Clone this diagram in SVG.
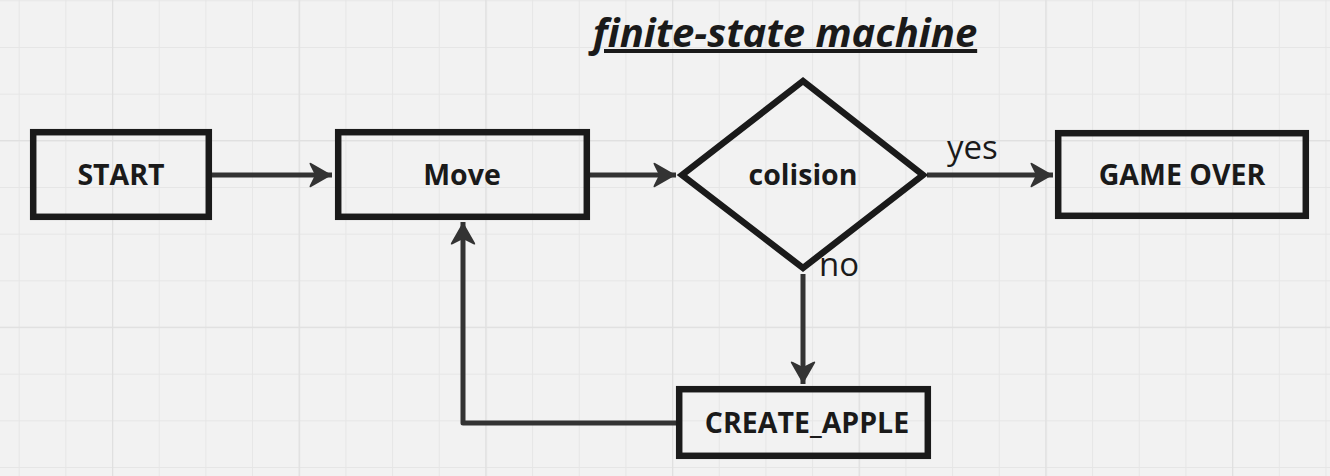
<svg xmlns="http://www.w3.org/2000/svg" width="1330" height="476" viewBox="0 0 1330 476">
<defs>
<pattern id="minor" patternUnits="userSpaceOnUse" x="18.7" y="0.3" width="46.67" height="46.67">
<path d="M0 0V46.67M0 0H46.67" fill="none" stroke="#e6e6e6" stroke-width="2"/>
</pattern>
<pattern id="major" patternUnits="userSpaceOnUse" x="112" y="140" width="186.67" height="186.67">
<path d="M0 0V186.67M0 0H186.67" fill="none" stroke="#e0e0e0" stroke-width="2.5"/>
</pattern>
<marker id="arr" markerUnits="userSpaceOnUse" markerWidth="30" markerHeight="30" refX="24" refY="14" orient="auto" viewBox="0 0 30 28">
<path d="M24 14 L3 2 Q0.5 1 2 4 L7 14 L2 24 Q0.5 27 3 26 Z" fill="#333"/>
</marker>
<style>
.box{fill:none;stroke:#1a1a1a;stroke-width:6.5}
.lbl{font-family:"Open Sans","Liberation Sans",sans-serif;font-weight:bold;font-size:28.5px;fill:#1a1a1a;text-anchor:middle}
.edge{fill:none;stroke:#333;stroke-width:5;stroke-linejoin:round}
.elbl{font-family:"Open Sans","Liberation Sans",sans-serif;font-size:33px;fill:#1a1a1a}
</style>
</defs>
<rect width="1330" height="476" fill="#f2f2f2"/>
<rect width="1330" height="476" fill="url(#minor)"/>
<rect width="1330" height="476" fill="url(#major)"/>
<g id="title">
<text x="785" y="47" font-family="'Open Sans','Liberation Sans',sans-serif" font-weight="bold" font-style="italic" font-size="40" fill="#1a1a1a" text-anchor="middle" text-decoration="underline">finite-state machine</text>
</g>
<g id="connectors">
<path class="edge" d="M212 175H332" marker-end="url(#arr)"/>
<path class="edge" d="M590 175H676" marker-end="url(#arr)"/>
<path class="edge" d="M927 175H1053" marker-end="url(#arr)"/>
<path class="edge" d="M803 274V384" marker-end="url(#arr)"/>
<path class="edge" d="M676 423H463V222" marker-end="url(#arr)"/>
<text class="elbl" x="947" y="159">yes</text>
<text class="elbl" x="819" y="276">no</text>
</g>
<g id="start">
<rect class="box" x="33.2" y="132.2" width="175.6" height="84.6"/>
<text class="lbl" x="121" y="185">START</text>
</g>
<g id="move">
<rect class="box" x="338.2" y="132.2" width="248.6" height="84.6"/>
<text class="lbl" x="462" y="185">Move</text>
</g>
<g id="colision">
<polygon class="box" points="682,175 803,81 923,175 803,268"/>
<text class="lbl" x="803" y="185">colision</text>
</g>
<g id="gameover">
<rect class="box" x="1058.2" y="133.2" width="247.6" height="82.6"/>
<text class="lbl" x="1182" y="185">GAME OVER</text>
</g>
<g id="createapple">
<rect class="box" x="679.2" y="389.2" width="248.6" height="66.6"/>
<text class="lbl" x="807" y="433">CREATE_APPLE</text>
</g>
</svg>
